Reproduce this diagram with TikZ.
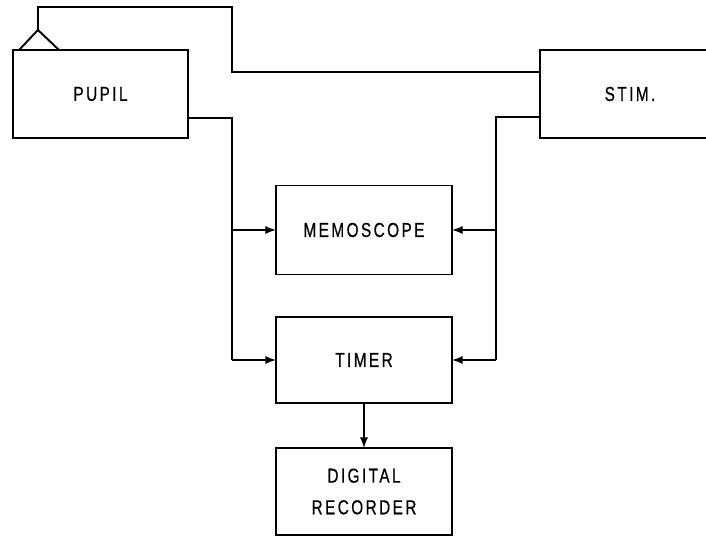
\documentclass[tikz,border=0pt]{standalone}
\usepackage{fontspec}
\newfontfamily\boxfont[LetterSpace=12, FakeStretch=0.76, FakeBold=0.6]{Liberation Sans}
\usepackage{tikz}
\usetikzlibrary{arrows}
\usetikzlibrary{positioning}
\tikzstyle{base}=[inner sep=0pt, outer sep=0pt, line width=1pt]
\tikzstyle{unit}=[draw, black, font=\boxfont\fontsize{11.5}{18}\selectfont, align=center]
\tikzstyle{wire}=[black, line width=1.1pt]
\tikzstyle{feed}=[wire, -latex]

\begin{document}
\begin{tikzpicture}[base]
    \clip (0,0) rectangle (14.12,-10.74);
    \useasboundingbox (0,0) rectangle (14.12,-10.74);
        \node [unit, minimum width=3.5cm, minimum height=1.76cm] (pupil) at (2.01,-1.88) {PUPIL};
        \node [unit, minimum width=3.6cm, minimum height=1.76cm] (stim) at (12.6,-1.88) {STIM.};
        \node [unit, minimum width=3.52cm, minimum height=1.78cm] (memo) at (7.28,-4.6) {MEMOSCOPE};
        \node [unit, minimum width=3.52cm, minimum height=1.72cm] (timer) at (7.28,-7.2) {TIMER};
        \node [unit, minimum width=3.52cm, minimum height=1.74cm] (rec) at (7.28,-9.83) {DIGITAL\\RECORDER};
        % sensor on top of the pupil box
        \coordinate (eye) at (0.76,-0.6);
        \draw [wire] (0.38,-1.0) -- (eye) -- (1.18,-1.0);
        \draw [wire] (eye) -- (0.76,-0.14) -- (4.64,-0.14) -- (4.64,-1.44) -- (stim.west |- 0,-1.44);
        % left bus
        \coordinate (lb) at (4.64,-2.36);
        \draw [wire] (pupil.east |- lb) -- (lb) -- (lb |- timer.west);
        \draw [feed] (lb |- memo.west) -- (memo.west);
        \draw [feed] (lb |- timer.west) -- (timer.west);
        % right bus
        \coordinate (rb) at (9.92,-2.34);
        \draw [wire] (stim.west |- rb) -- (rb) -- (rb |- timer.east);
        \draw [feed] (rb |- memo.east) -- (memo.east);
        \draw [feed] (rb |- timer.east) -- (timer.east);
        \draw [feed] (timer.south) -- (rec.north);
\end{tikzpicture}
\end{document}
